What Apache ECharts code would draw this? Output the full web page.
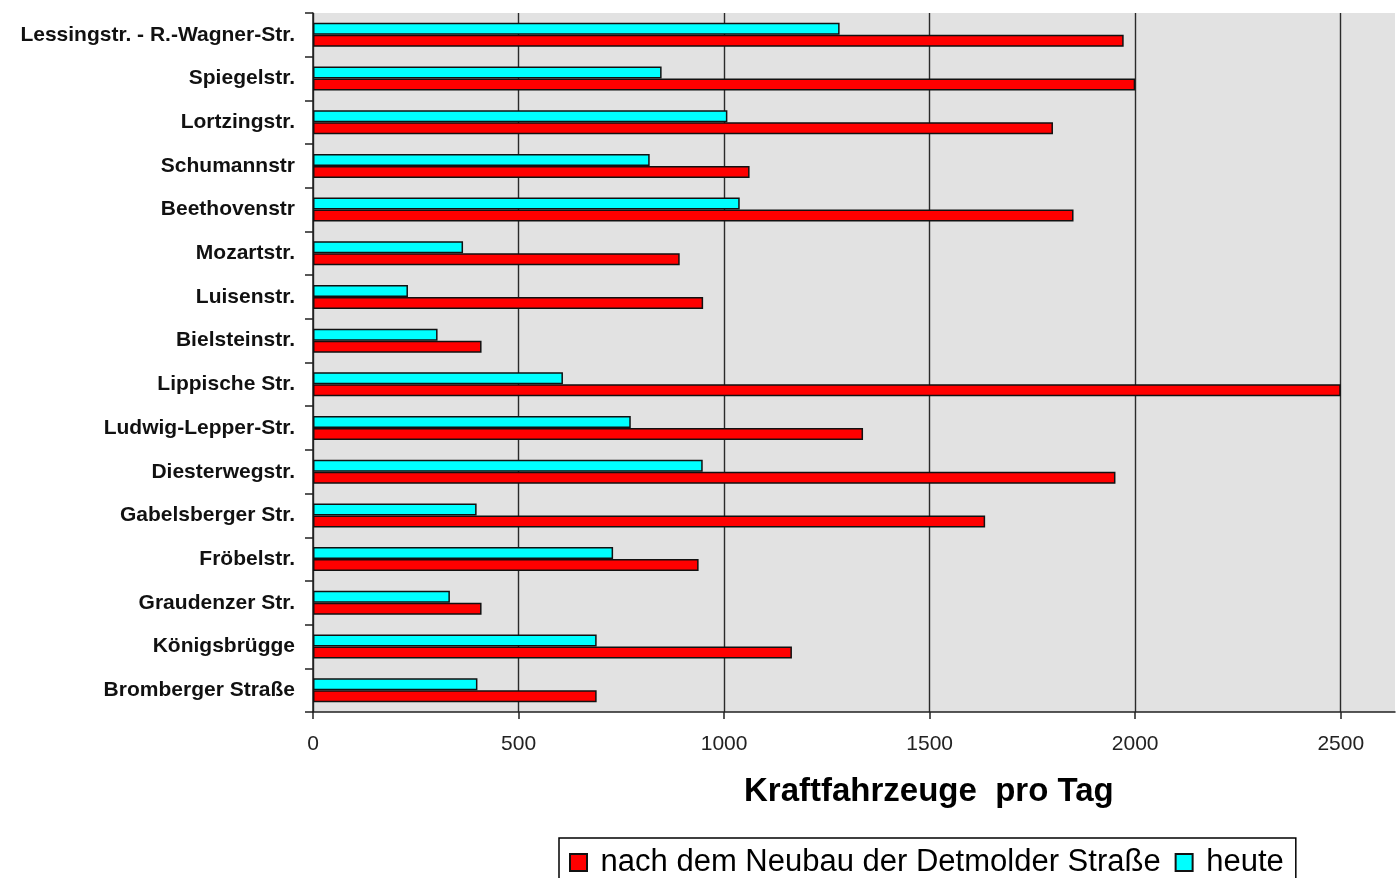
<!DOCTYPE html>
<html>
<head>
<meta charset="utf-8">
<script src="https://cdn.jsdelivr.net/npm/echarts@6/dist/echarts.min.js"></script>
<style>
html,body{margin:0;padding:0;background:#fff;}
#chart{width:1400px;height:878px;}
</style>
</head>
<body>
<div id="chart"></div>
<script>
const categories = [
  'Lessingstr. - R.-Wagner-Str.', 'Spiegelstr.', 'Lortzingstr.', 'Schumannstr',
  'Beethovenstr', 'Mozartstr.', 'Luisenstr.', 'Bielsteinstr.', 'Lippische Str.',
  'Ludwig-Lepper-Str.', 'Diesterwegstr.', 'Gabelsberger Str.', 'Fröbelstr.',
  'Graudenzer Str.', 'Königsbrügge', 'Bromberger Straße'
];
const nachNeubau = [1972, 2000, 1800, 1062, 1850, 892, 949, 410, 2500, 1338, 1952, 1635, 938, 410, 1165, 690];
const heute = [1281, 848, 1008, 819, 1038, 365, 231, 303, 608, 773, 948, 398, 730, 333, 690, 400];
const xTicks = [0, 500, 1000, 1500, 2000, 2500];
const seriesNames = ['nach dem Neubau der Detmolder Straße', 'heute'];
const xTitle = 'Kraftfahrzeuge  pro Tag';

const chart = echarts.init(document.getElementById('chart'), null, {renderer: 'canvas'});
chart.setOption({
  animation: false,
  backgroundColor: '#ffffff',
  title: {
    text: xTitle,
    left: 744,
    top: 775,
    padding: 0,
    textStyle: {fontFamily: 'Liberation Sans', fontWeight: 'bold', fontSize: 33, color: '#000'}
  },
  legend: {
    data: seriesNames,
    left: 559,
    top: 838,
    orient: 'horizontal',
    borderColor: '#000',
    borderWidth: 1.5,
    backgroundColor: '#fff',
    padding: [9, 12, 30, 10],
    itemGap: 14,
    itemWidth: 17,
    itemHeight: 17,
    icon: 'rect',
    formatter: function (n) { return ' ' + n; },
    textStyle: {fontFamily: 'Liberation Sans', fontSize: 31, color: '#000'}
  },
  grid: {
    left: 313, top: 13, width: 1082, height: 699,
    show: true, backgroundColor: '#e2e2e2', borderWidth: 0,
    containLabel: false
  },
  xAxis: {
    type: 'value',
    min: 0,
    max: 2632,
    interval: 500,
    axisLine: {show: true, lineStyle: {color: '#222', width: 1.5}},
    axisTick: {show: true, length: 7, customValues: xTicks, lineStyle: {color: '#222', width: 1.5}},
    axisLabel: {
      customValues: xTicks,
      margin: 22,
      fontFamily: 'Liberation Sans',
      fontSize: 21,
      color: '#222',
      formatter: function (v) { return String(v); }
    },
    splitLine: {
      show: true,
      lineStyle: {
        color: ['#2a2a2a', '#2a2a2a', '#2a2a2a', '#2a2a2a', '#2a2a2a', '#2a2a2a', 'rgba(0,0,0,0)'],
        width: 1.4
      }
    }
  },
  yAxis: {
    type: 'category',
    data: categories,
    inverse: true,
    axisLine: {show: true, lineStyle: {color: '#222', width: 1.5}},
    axisTick: {show: true, length: 8, alignWithLabel: false, lineStyle: {color: '#222', width: 1.5}},
    axisLabel: {
      margin: 18,
      fontFamily: 'Liberation Sans',
      fontWeight: 'bold',
      fontSize: 21,
      color: '#111'
    },
    splitLine: {show: false}
  },
  series: [
    {
      name: seriesNames[1],
      type: 'bar',
      data: heute,
      barGap: '0%',
      barCategoryGap: '45%',
      itemStyle: {color: '#00ffff', borderColor: '#111', borderWidth: 1.5}
    },
    {
      name: seriesNames[0],
      type: 'bar',
      data: nachNeubau,
      barGap: '0%',
      barCategoryGap: '45%',
      itemStyle: {color: '#ff0000', borderColor: '#111', borderWidth: 1.5}
    }
  ]
});
</script>
</body>
</html>
